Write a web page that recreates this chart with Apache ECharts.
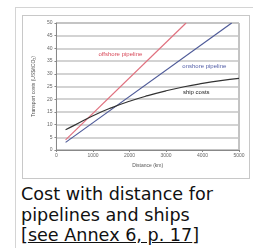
<!DOCTYPE html>
<html>
<head>
<meta charset="utf-8">
<script src="https://cdn.jsdelivr.net/npm/echarts@6/dist/echarts.min.js"></script>
<style>
body { margin: 0; background: #fff; width: 253px; height: 248px; overflow: hidden; position: relative; }
#frame { position: absolute; left: 15px; top: 7px; width: 260px; height: 260px; border: 1px solid #d4d4d4; }
#chart { position: absolute; left: 22px; top: 15px; width: 228px; height: 164px; border: 1px solid #c8c8c8; box-sizing: border-box; }
#caption { position: absolute; left: 21px; top: 184px; font-family: "DejaVu Sans", Verdana, sans-serif; font-size: 17.6px; line-height: 20.5px; color: #111; white-space: nowrap; }
#caption a { color: #111; text-decoration: underline; }
</style>
</head>
<body>
<div id="frame"></div>
<div id="chart"></div>
<div id="caption">Cost with distance for<br>pipelines and ships<br>[<a>see Annex 6, p. 17</a>]</div>
<script>
// 数据
var offshore = [[250, 4], [3550, 50]];
var onshore = [[250, 3], [4800, 50]];
var shipDist = [250, 500, 1000, 1500, 2000, 2500, 3000, 3500, 4000, 4500, 5000];
var shipCost = [8, 9.8, 13.5, 16.6, 19.2, 21.4, 23.3, 24.9, 26.2, 27.3, 28.2];
var ship = shipDist.map(function (d, i) { return [d, shipCost[i]]; });

var chart = echarts.init(document.getElementById('chart'));

function lineLabel(text, color, coord) {
    return {
        silent: true,
        symbolSize: 0,
        data: [{ coord: coord, label: { show: true, formatter: text, color: color, fontSize: 6, fontFamily: 'Arial' } }]
    };
}

var option = {
    animation: false,
    grid: { left: 26, top: 7, right: 10, bottom: 28, show: true, borderColor: '#888', borderWidth: 1, backgroundColor: '#fff' },
    xAxis: {
        type: 'value', min: 0, max: 5000, interval: 1000,
        name: 'Distance (km)', nameLocation: 'middle', nameGap: 13,
        nameTextStyle: { fontSize: 5, color: '#555' },
        axisLine: { show: true, lineStyle: { color: '#888' } },
        axisTick: { show: true, length: 2, lineStyle: { color: '#888' } },
        axisLabel: { fontSize: 5, color: '#666', margin: 3, formatter: function (v) { return String(v); } },
        splitLine: { show: false }
    },
    yAxis: {
        type: 'value', min: 0, max: 50, interval: 5,
        name: 'Transport costs (US$/tCO₂)', nameLocation: 'middle', nameGap: 12,
        nameTextStyle: { fontSize: 5, color: '#555' },
        axisLine: { show: true, lineStyle: { color: '#888' } },
        axisTick: { show: true, length: 2, lineStyle: { color: '#888' } },
        axisLabel: { fontSize: 5, color: '#666', margin: 4 },
        splitLine: { show: true, lineStyle: { color: '#c4c4c4', width: 1.5 } }
    },
    series: [
        {
            name: 'offshore pipeline', type: 'line', data: offshore, showSymbol: false,
            lineStyle: { color: '#e0707e', width: 1.2 },
            markPoint: lineLabel('offshore pipeline', '#d84a5a', [1750, 37.7])
        },
        {
            name: 'onshore pipeline', type: 'line', data: onshore, showSymbol: false,
            lineStyle: { color: '#4e5a98', width: 1.2 },
            markPoint: lineLabel('onshore pipeline', '#5560a8', [4050, 33])
        },
        {
            name: 'ship costs', type: 'line', data: ship, showSymbol: false, smooth: true,
            lineStyle: { color: '#333', width: 1.2 },
            markPoint: lineLabel('ship costs', '#222', [3830, 22.6])
        }
    ]
};
chart.setOption(option);
</script>
</body>
</html>
